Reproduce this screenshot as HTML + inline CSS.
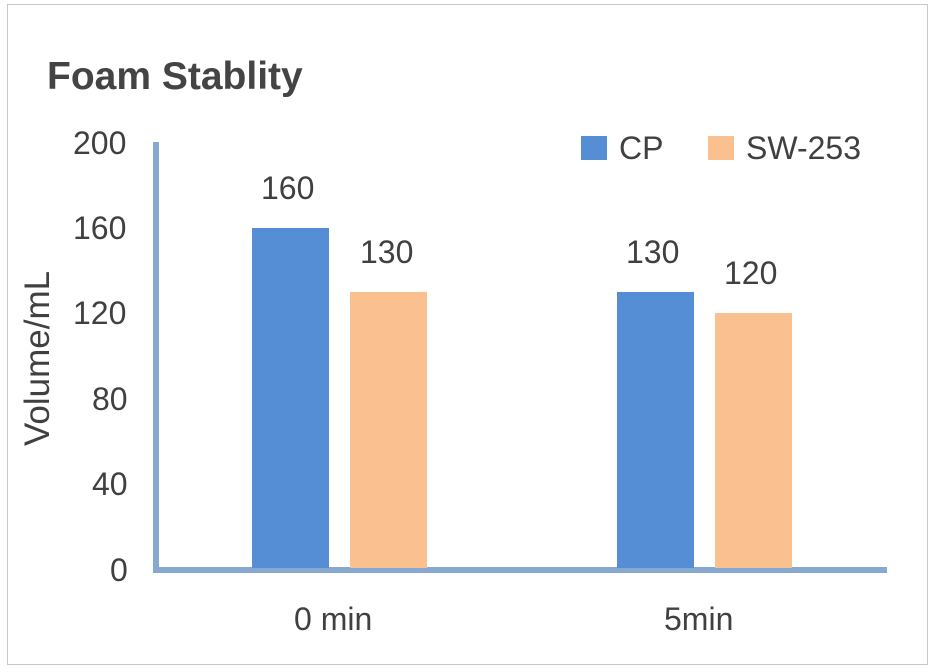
<!DOCTYPE html>
<html><head><meta charset="utf-8"><style>
html,body{margin:0;padding:0;background:#fff;}
body{width:938px;height:672px;position:relative;overflow:hidden;font-family:"Liberation Sans","DejaVu Sans",sans-serif;color:#404040;}
.a{position:absolute;}
.t{position:absolute;font-size:32px;line-height:32px;}
</style></head><body>
<div class="a" style="left:7px;top:4px;width:919px;height:659px;border:1px solid #c8c8c8;"></div>
<div class="a" style="left:47px;top:55px;font-size:39px;line-height:44px;font-weight:bold;color:#444;">Foam Stablity</div>
<div class="a" style="left:153px;top:142px;width:6px;height:430px;background:#87a9cf;"></div>
<div class="a" style="left:153px;top:567px;width:734px;height:6px;background:#87a9cf;"></div>
<div class="t" style="left:73px;top:127px;">200</div>
<div class="t" style="left:73px;top:212px;">160</div>
<div class="t" style="left:73px;top:297px;">120</div>
<div class="t" style="left:92px;top:383px;">80</div>
<div class="t" style="left:92px;top:468px;">40</div>
<div class="t" style="left:110px;top:554px;">0</div>
<div class="t" style="left:20px;top:446px;transform:rotate(-90deg);transform-origin:0 0;white-space:nowrap;font-size:35px;line-height:36px;">Volume/mL</div>
<div class="a" style="left:252px;top:228px;width:77px;height:340px;background:#558ed5;"></div>
<div class="a" style="left:350px;top:292px;width:77px;height:276px;background:#fac090;"></div>
<div class="a" style="left:617px;top:292px;width:77px;height:276px;background:#558ed5;"></div>
<div class="a" style="left:715px;top:313px;width:77px;height:255px;background:#fac090;"></div>
<div class="t" style="left:261px;top:172px;">160</div>
<div class="t" style="left:360px;top:236px;">130</div>
<div class="t" style="left:626px;top:236px;">130</div>
<div class="t" style="left:724px;top:257px;">120</div>
<div class="t" style="left:294px;top:603px;">0 min</div>
<div class="t" style="left:664px;top:603px;">5min</div>
<div class="a" style="left:581px;top:136px;width:26px;height:24px;background:#558ed5;"></div>
<div class="t" style="left:619px;top:132px;">CP</div>
<div class="a" style="left:708px;top:136px;width:26px;height:24px;background:#fac090;"></div>
<div class="t" style="left:746px;top:132px;">SW-253</div>
</body></html>
